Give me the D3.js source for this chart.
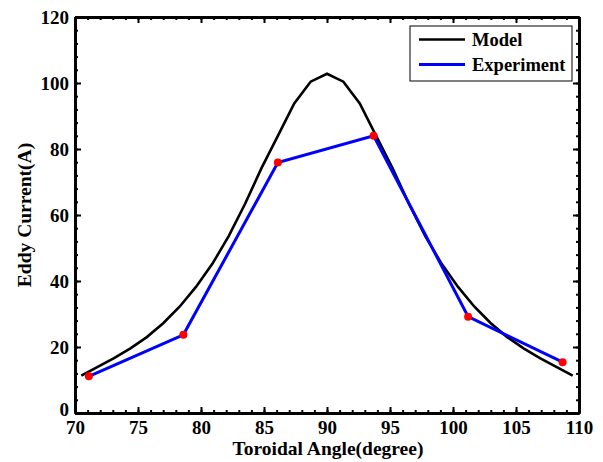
<!DOCTYPE html>
<html>
<head>
<meta charset="utf-8">
<script src="https://cdn.jsdelivr.net/npm/d3@7"></script>
<style>
  body { margin: 0; background: #fff; }
  svg text { font-family: "Liberation Serif", "Times New Roman", serif; font-weight: bold; }
</style>
</head>
<body>
<svg id="chart" width="603" height="462"></svg>
<script>
// model curve (toroidal angle in degrees, eddy current in A)
var modelAngle = [70.5, 71.8, 73.1, 74.4, 75.7, 77.0, 78.3, 79.6, 80.9, 82.2, 83.5, 84.8, 86.1, 87.4, 88.7, 90.0,
                  91.3, 92.6, 93.9, 95.2, 96.5, 97.8, 99.1, 100.4, 101.7, 103.0, 104.3, 105.6, 106.9, 108.2, 109.5];
var modelCurrent = [11.3, 14.0, 16.6, 19.6, 23.0, 27.2, 32.2, 38.2, 45.2, 53.6, 63.4, 74.2, 84.0, 93.8, 100.4, 102.8,
                    100.4, 93.8, 84.0, 74.2, 63.4, 53.6, 45.2, 38.2, 32.2, 27.2, 23.0, 19.6, 16.6, 14.0, 11.3];

// measured points
var expAngle = [71.1, 78.6, 86.1, 93.7, 101.2, 108.7];
var expCurrent = [11.1, 23.7, 75.9, 84.0, 29.2, 15.4];

var xTicks = [70, 75, 80, 85, 90, 95, 100, 105, 110];
var yTicks = [0, 20, 40, 60, 80, 100, 120];
var xMinor = d3.range(70, 111, 1);
var yMinor = d3.range(0, 121, 4);

var legendNames = ["Model", "Experiment"];
var legendColors = ["#000000", "#0000ff"];

var svg = d3.select("#chart");
var margin = {top: 17, right: 24, bottom: 49, left: 75};
var width = +svg.attr("width") - margin.left - margin.right;
var height = +svg.attr("height") - margin.top - margin.bottom;
var g = svg.append("g").attr("transform", "translate(" + margin.left + "," + margin.top + ")");

var x = d3.scaleLinear().domain([70, 110]).range([0, width]);
var y = d3.scaleLinear().domain([0, 120]).range([height, 0]);

// minor ticks first, then major axes on top
function minor(axis, vals, tr) {
    g.append("g").attr("class", "minor").attr("transform", tr)
        .call(axis.tickValues(vals).tickFormat("").tickSizeInner(-3).tickSizeOuter(0));
}
minor(d3.axisBottom(x), xMinor, "translate(0," + height + ")");
minor(d3.axisTop(x), xMinor, "translate(0,0)");
minor(d3.axisLeft(y), yMinor, "translate(0,0)");
minor(d3.axisRight(y), yMinor, "translate(" + width + ",0)");

var xAxis = g.append("g").attr("transform", "translate(0," + height + ")")
    .call(d3.axisBottom(x).tickValues(xTicks).tickSizeInner(-6).tickSizeOuter(0).tickPadding(8));
var yAxis = g.append("g")
    .call(d3.axisLeft(y).tickValues(yTicks).tickSizeInner(-6).tickSizeOuter(0).tickPadding(6));
g.append("g").call(d3.axisTop(x).tickValues(xTicks).tickFormat("").tickSizeInner(-6).tickSizeOuter(0));
g.append("g").attr("transform", "translate(" + width + ",0)")
    .call(d3.axisRight(y).tickValues(yTicks).tickFormat("").tickSizeInner(-6).tickSizeOuter(0));

g.selectAll(".domain").attr("stroke", "#000").attr("stroke-width", 3);
g.selectAll(".tick line").attr("stroke", "#000").attr("stroke-width", 2);
g.selectAll(".tick text").attr("fill", "#000").style("font-size", "19px");
// the "0" sits right next to "70" in the corner; nudge it up a touch
yAxis.selectAll(".tick text").filter(function(d) { return d === 0; }).attr("dy", "0.12em");

// curves
var modelLine = d3.line()
    .x(function(d, i) { return x(modelAngle[i]); })
    .y(function(d) { return y(d); });
g.append("path").datum(modelCurrent)
    .attr("fill", "none").attr("stroke", "#000").attr("stroke-width", 2.6)
    .attr("d", modelLine);

var expLine = d3.line()
    .x(function(d, i) { return x(expAngle[i]); })
    .y(function(d) { return y(d); });
g.append("path").datum(expCurrent)
    .attr("fill", "none").attr("stroke", "#0000ff").attr("stroke-width", 3)
    .attr("d", expLine);

g.selectAll("circle.pt").data(expCurrent).enter().append("circle")
    .attr("class", "pt")
    .attr("cx", function(d, i) { return x(expAngle[i]); })
    .attr("cy", function(d) { return y(d); })
    .attr("r", 4)
    .attr("fill", "#ff0000");

// axis titles
svg.append("text")
    .attr("x", margin.left + width / 2 + 1).attr("y", 455)
    .attr("text-anchor", "middle").style("font-size", "19.5px")
    .text("Toroidal Angle(degree)");
svg.append("text")
    .attr("transform", "translate(31," + (margin.top + height / 2) + ") rotate(-90)")
    .attr("text-anchor", "middle").style("font-size", "19.5px")
    .text("Eddy Current(A)");

// legend
var legend = svg.append("g").attr("transform", "translate(410,26)");
legend.append("rect").attr("width", 162).attr("height", 55)
    .attr("fill", "#fff").attr("stroke", "#000").attr("stroke-width", 1);
legendNames.forEach(function(name, i) {
    var ly = 13.5 + i * 25;
    legend.append("line")
        .attr("x1", 9).attr("x2", 55).attr("y1", ly).attr("y2", ly)
        .attr("stroke", legendColors[i]).attr("stroke-width", i ? 3 : 2.6);
    legend.append("text")
        .attr("x", 62).attr("y", ly + 6)
        .style("font-size", "18.5px")
        .text(name);
});
</script>
</body>
</html>
